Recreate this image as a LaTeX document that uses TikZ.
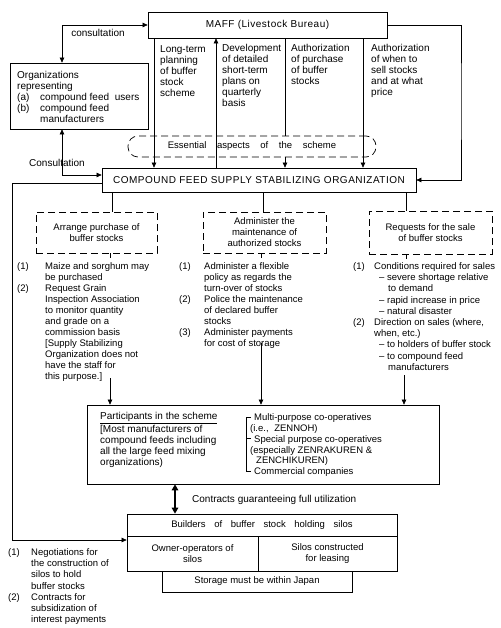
\documentclass[tikz,border=0pt]{standalone}
\usepackage{fontspec}
\setmainfont{Liberation Sans}
\newfontfamily\hdrfont[LetterSpace=5]{Liberation Sans}
\usetikzlibrary{arrows.meta,calc}
\newcommand\fs{\fontsize{9.5}{11}\selectfont}
\newcommand\fsr{\fontsize{9.5}{11.2}\selectfont}
\newcommand\fl{\fontsize{10}{11}\selectfont}
\newcommand\fm{\fontsize{9.5}{10.8}\selectfont}
\newcommand\hdr{\fontsize{10}{12}\selectfont\hdrfont}
\begin{document}
\begin{tikzpicture}[x=1pt,y=-1pt]
\tikzset{
  ln/.style={line width=0.65pt},
  box/.style={draw, line width=0.7pt, inner sep=0pt, align=center, font=\fs},
  dbox/.style={draw, line width=0.7pt, dash pattern=on 7pt off 4pt, inner sep=0pt, align=center, font=\fs},
  txt/.style={inner sep=0pt, anchor=north west, align=left, font=\fs},
  lab/.style={inner sep=0pt, font=\fl},
  tip/.style={-{Triangle[length=5pt,width=4.5pt]}},
  tips/.style={{Triangle[length=5pt,width=4.5pt]}-{Triangle[length=5pt,width=4.5pt]}},
  bigtips/.style={{Triangle[length=6pt,width=6.5pt]}-{Triangle[length=6pt,width=6.5pt]}},
}
\useasboundingbox (0,0) rectangle (500,628);

% boxes
\node[box, minimum width=239pt, minimum height=26pt, font=\hdr] (maff) at (267.5,25) {MAFF (Livestock Bureau)};
\node[box, minimum width=138pt, minimum height=66pt] (org) at (79,96) {};
\node[txt, font=\fl] (orgtxt) at (17,71.5) {Organizations\\representing\\\makebox[23pt][l]{(a)}compound feed\hspace{3pt} users\\\makebox[23pt][l]{(b)}compound feed\\\hspace*{23pt}manufacturers};
\node[box, minimum width=314pt, minimum height=24pt, font=\hdr] (cfsso) at (259,180) {COMPOUND FEED SUPPLY STABILIZING ORGANIZATION};
\node[dbox, rounded corners=10pt, minimum width=248pt, minimum height=21pt] (ess) at (252,146.5) {Essential\hspace{8pt} aspects\hspace{8pt} of\hspace{8pt} the\hspace{8pt} scheme};

% column texts
\node[txt, font=\fl] (t1) at (160,45.4) {Long-term\\planning\\of buffer\\stock\\scheme};
\node[txt, font=\fl] (t2) at (222,44) {Development\\of detailed\\short-term\\plans on\\quarterly\\basis};
\node[txt, font=\fl] (t3) at (291,44.5) {Authorization\\of purchase\\of buffer\\stocks};
\node[txt, font=\fl] (t4) at (371,44.5) {Authorization\\of when to\\sell stocks\\and at what\\price};

% dashed boxes
\node[dbox, minimum width=121pt, minimum height=41pt] (da) at (96.5,232.5) {Arrange purchase of\\buffer stocks};
\node[dbox, minimum width=123pt, minimum height=41pt] (db) at (264.5,232.5) {Administer the\\maintenance of\\authorized stocks};
\node[dbox, minimum width=123pt, minimum height=43pt] (dc) at (430.5,232.5) {Requests for the sale\\of buffer stocks};

% lists
\node[txt] (la) at (17,262.5) {\makebox[28pt][l]{(1)}Maize and sorghum may\\
\hspace*{28pt}be purchased\\
\makebox[28pt][l]{(2)}Request Grain\\
\hspace*{28pt}Inspection Association\\
\hspace*{28pt}to monitor quantity\\
\hspace*{28pt}and grade on a\\
\hspace*{28pt}commission basis\\
\hspace*{28pt}[Supply Stabilizing\\
\hspace*{28pt}Organization does not\\
\hspace*{28pt}have the staff for\\
\hspace*{28pt}this purpose.]};
\node[txt] (lb) at (179,262.5) {\makebox[25pt][l]{(1)}Administer a flexible\\
\hspace*{25pt}policy as regards the\\
\hspace*{25pt}turn-over of stocks\\
\makebox[25pt][l]{(2)}Police the maintenance\\
\hspace*{25pt}of declared buffer\\
\hspace*{25pt}stocks\\
\makebox[25pt][l]{(3)}Administer payments\\
\hspace*{25pt}for cost of storage};
\node[txt, font=\fsr] (lc) at (353,262.5) {\makebox[21pt][l]{(1)}Conditions required for sales\\
\hspace*{26pt}– severe shortage relative\\
\hspace*{35pt}to demand\\
\hspace*{26pt}– rapid increase in price\\
\hspace*{26pt}– natural disaster\\
\makebox[21pt][l]{(2)}Direction on sales (where,\\
\hspace*{21pt}when, etc.)\\
\hspace*{26pt}– to holders of buffer stock\\
\hspace*{26pt}– to compound feed\\
\hspace*{35pt}manufacturers};

% participants
\node[box, minimum width=352pt, minimum height=79pt] (part) at (263,444.5) {};
\node[txt, font=\fl] (pl) at (100,412.5) {\underline{Participants in the scheme}\\{[}Most manufacturers of\\compound feeds including\\all the large feed mixing\\organizations)};
\node[txt, font=\fm] (pr) at (250,413.6) {\hspace*{4pt}Multi-purpose co-operatives\\(i.e.,\hspace{3pt} ZENNOH)\\\hspace*{4pt}Special purpose co-operatives\\(especially ZENRAKUREN \&\\\hspace*{6pt}ZENCHIKUREN)\\\hspace*{4pt}Commercial companies};
\draw[ln] (251,417) -- (246,417) -- (246,471) -- (251,471);
\draw[ln] (246,438) -- (251,438);

% builders
\node[box, minimum width=270pt, minimum height=22pt] (bh) at (262,525) {Builders\hspace{6pt} of\hspace{6pt} buffer\hspace{6pt} stock\hspace{6pt} holding\hspace{6pt} silos};
\node[box, minimum width=131pt, minimum height=35pt] (bl) at (192.5,553.5) {Owner-operators of\\silos};
\node[box, minimum width=139pt, minimum height=35pt] (br) at (327.5,553.5) {Silos constructed\\for leasing};
\node[box, minimum width=190pt, minimum height=21pt] (st) at (257,581.5) {Storage must be within Japan};

\node[txt, font=\fsr] (ld) at (8,548.5) {\makebox[23pt][l]{(1)}Negotiations for\\\hspace*{23pt}the construction of\\\hspace*{23pt}silos to hold\\\hspace*{23pt}buffer stocks\\\makebox[23pt][l]{(2)}Contracts for\\\hspace*{23pt}subsidization of\\\hspace*{23pt}interest payments};

\node[lab, anchor=west] (ct) at (192,500) {Contracts guaranteeing full utilization};
\node[lab] (cl1) at (98,33) {consultation};
\node[lab] (cl2) at (57,163) {Consultation};

% connectors
\coordinate (cx) at (62,0);
\draw[ln,tips] (org.north -| cx) |- (maff.west);
\draw[ln,tips] (org.south -| cx) |- ([yshift=5pt]cfsso.west);
\coordinate (lcorner) at (12,540);
\draw[ln,tip] ([yshift=-3pt]cfsso.west) -| (lcorner) -- (bl.west |- lcorner);

\coordinate (x1) at (154,0);
\coordinate (x2) at (216,0);
\coordinate (x3) at (285,0);
\coordinate (x4) at (363,0);
\coordinate (xr) at (461,100);
\draw[ln,tip] (maff.south -| x1) -- (cfsso.north -| x1);
\draw[ln,tip] (cfsso.north -| x2) -- (maff.south -| x2);
\draw[ln] (maff.south -| x3) -- (ess.north -| x3);
\draw[ln,tip] (ess.south -| x3) -- (cfsso.north -| x3);
\draw[ln,tip] (maff.south -| x4) -- (cfsso.north -| x4);
\draw[ln,tip] (maff.east) -| (xr) |- (cfsso.east);

\coordinate (ya) at (112,0);
\coordinate (yb) at (263,0);
\coordinate (yc) at (406,0);
\draw[ln] (cfsso.south -| ya) -- (da.north -| ya);
\draw[ln] (cfsso.south -| yb) -- (db.north -| yb);
\draw[ln] (cfsso.south -| yc) -- (dc.north -| yc);
\coordinate (sa) at (110,0);
\coordinate (sb) at (261,0);
\draw[ln] (da.south -| sa) -- ++(0,5);
\draw[ln] (db.south -| sb) -- ++(0,5);
\draw[ln] (dc.south -| yc) -- ++(0,5);

\coordinate (pa) at (110,378);
\coordinate (pb) at (261,343);
\coordinate (pc) at (404,375);
\draw[ln,tip] (pa) -- (part.north -| pa);
\draw[ln,tip] (pb) -- (part.north -| pb);
\draw[ln,tip] (pc) -- (part.north -| pc);

\coordinate (dx) at (175,0);
\draw[line width=1.6pt,bigtips] (part.south -| dx) -- (bh.north -| dx);
\end{tikzpicture}
\end{document}
